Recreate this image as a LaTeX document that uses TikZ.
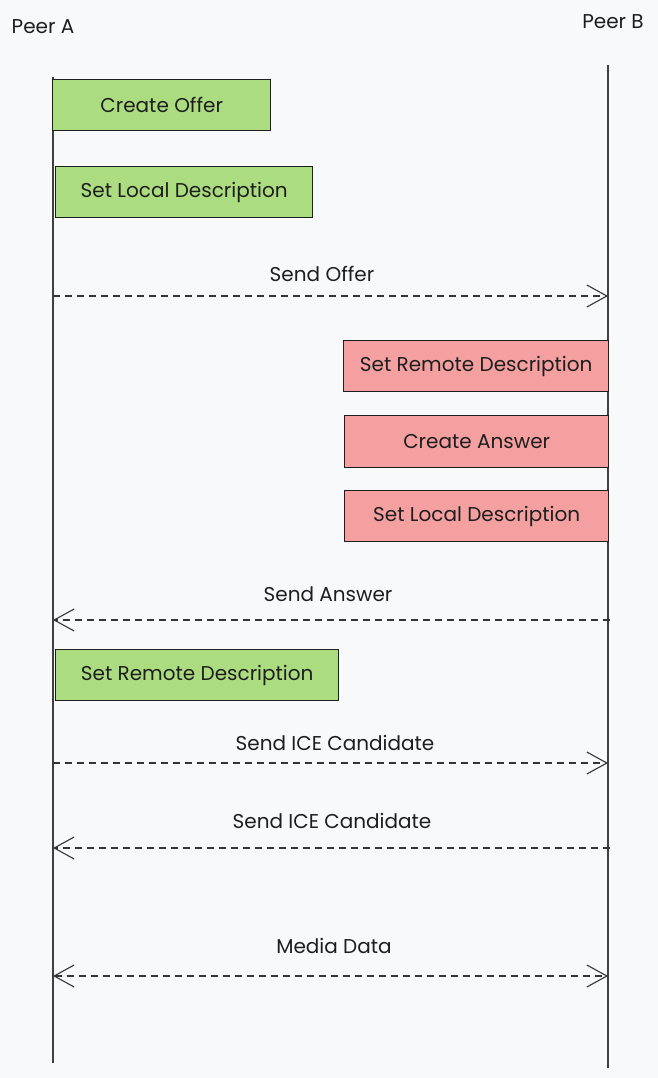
\documentclass[tikz,border=0pt]{standalone}
\usepackage{fontspec}
\setmainfont{Poppins}
\usetikzlibrary{arrows.meta}
\definecolor{bg}{RGB}{248,249,250}
\definecolor{boxgreen}{RGB}{172,220,128}
\definecolor{boxred}{RGB}{245,160,160}
\definecolor{ink}{RGB}{30,30,30}
\tikzset{
  x=1pt, y=-1pt,
  lbl/.style={font=\fontsize{20}{23}\selectfont, text=ink, inner sep=0pt},
  actor/.style={font=\fontsize{20}{23}\selectfont, text=ink, inner sep=0pt},
  lifeline/.style={draw=ink!85, line width=1.2pt},
  actbox/.style={draw=ink, line width=1.4pt, inner sep=0pt, font=\fontsize{20}{23}\selectfont, text=ink, anchor=north west},
  greenbox/.style={actbox, fill=boxgreen},
  redbox/.style={actbox, fill=boxred},
  msg/.style={draw=ink!90, line width=1.1pt, dash pattern=on 7pt off 5pt,
     arrows={-{Straight Barb[length=20pt,width=22pt,line width=1.1pt]}}},
  msgboth/.style={msg, arrows={{Straight Barb[length=20pt,width=22pt,line width=1.1pt]}-{Straight Barb[length=20pt,width=22pt,line width=1.1pt]}}},
}
\begin{document}
\begin{tikzpicture}
\fill[bg] (0,0) rectangle (658,1078);
\useasboundingbox (0,0) rectangle (658,1078);

% actors
\node[actor] (peerA) at (43,27) {Peer A};
\node[actor] (peerB) at (613,22) {Peer B};

% lifelines
\coordinate (aTop) at (53,77);
\coordinate (aBot) at (53,1063);
\coordinate (bTop) at (608,65);
\coordinate (bBot) at (608,1068);
\draw[lifeline] (aTop) -- (aBot);
\draw[lifeline] (bTop) -- (bBot);

% activity boxes
\node[greenbox, minimum width=218pt, minimum height=51pt] (createOffer) at (52,79) {Create Offer};
\node[greenbox, minimum width=257pt, minimum height=51pt] (setLocalA) at (55,166) {Set Local Description};
\node[redbox, minimum width=265pt, minimum height=51pt] (setRemoteB) at (343,340) {Set Remote Description};
\node[redbox, minimum width=264pt, minimum height=52pt] (createAnswer) at (344,415) {Create Answer};
\node[redbox, minimum width=264pt, minimum height=51pt] (setLocalB) at (344,490) {Set Local Description};
\node[greenbox, minimum width=283pt, minimum height=51pt] (setRemoteA) at (55,649) {Set Remote Description};

% message endpoints on lifelines
\coordinate (m1a) at (53,296);  \coordinate (m1b) at (608,296);
\coordinate (m2a) at (53,620);  \coordinate (m2b) at (610,620);
\coordinate (m3a) at (53,763);  \coordinate (m3b) at (608,763);
\coordinate (m4a) at (53,848);  \coordinate (m4b) at (610,848);
\coordinate (m5a) at (53,976);  \coordinate (m5b) at (608,976);

% messages
\draw[msg] (m1a) -- (m1b);
\node[lbl] (lOffer) at (322,274) {Send Offer};
\draw[msg] (m2b) -- (m2a);
\node[lbl] (lAnswer) at (328,594) {Send Answer};
\draw[msg] (m3a) -- (m3b);
\node[lbl] (lIce1) at (335,743) {Send ICE Candidate};
\draw[msg] (m4b) -- (m4a);
\node[lbl] (lIce2) at (332,821) {Send ICE Candidate};
\draw[msgboth] (m5a) -- (m5b);
\node[lbl] (lMedia) at (334,946) {Media Data};
\end{tikzpicture}
\end{document}
